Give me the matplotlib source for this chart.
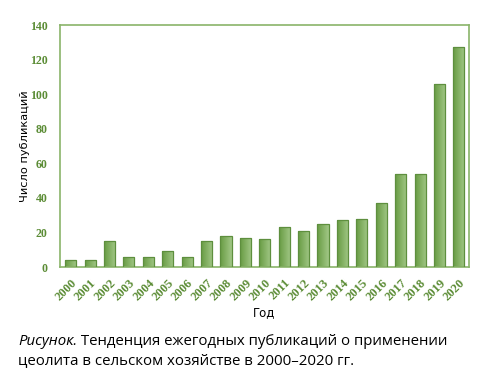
import matplotlib
matplotlib.use("Agg")
import matplotlib.pyplot as plt
import numpy as np
from matplotlib.colors import LinearSegmentedColormap

years = ["2000", "2001", "2002", "2003", "2004", "2005", "2006", "2007", "2008", "2009", "2010",
         "2011", "2012", "2013", "2014", "2015", "2016", "2017", "2018", "2019", "2020"]
counts = [4, 4, 15, 6, 6, 9, 6, 15, 18, 17, 16, 23, 21, 25, 27, 28, 37, 54, 54, 106, 127]
y_ticks = [0, 20, 40, 60, 80, 100, 120, 140]

tick_green = "#5b8c35"
spine_green = "#8ab46a"
edge_green = "#5e8f3e"

fig = plt.figure(figsize=(4.86, 3.79), dpi=100)
ax = fig.add_axes([0.1235, 0.2955, 0.8415, 0.6385])

x = np.arange(len(years))
bars = ax.bar(x, counts, width=0.57, color="none", edgecolor=edge_green, linewidth=0.9, zorder=3)

cmap = LinearSegmentedColormap.from_list("g", ["#679b43", "#a3c887"])
grad = np.linspace(0, 1, 64).reshape(1, -1)
for b in bars:
    x0, y0 = b.get_x(), b.get_y()
    w, h = b.get_width(), b.get_height()
    im = ax.imshow(grad, cmap=cmap, extent=[x0, x0 + w, y0, y0 + h], aspect="auto", zorder=2)
    im.set_clip_path(b)

ax.set_xlim(-0.55, len(years) - 0.48)
ax.set_ylim(0, 140)
ax.set_yticks(y_ticks)
ax.set_xticks(x)
ax.set_xticklabels(years, rotation=45, ha="right", rotation_mode="anchor")
for lbl in ax.get_xticklabels():
    lbl.set_fontsize(9)
for lbl in ax.get_yticklabels():
    lbl.set_fontsize(8.6)
for lbl in ax.get_xticklabels() + ax.get_yticklabels():
    lbl.set_family("Liberation Serif")
    lbl.set_fontweight("bold")
    lbl.set_color(tick_green)
ax.tick_params(axis="both", length=0)
ax.tick_params(axis="y", pad=9)
ax.tick_params(axis="x", pad=7)
for s in ax.spines.values():
    s.set_color(spine_green)
    s.set_linewidth(1.2)

ax.set_ylabel("Число публикаций", family="DejaVu Sans", fontsize=8.2, color="black")
ax.yaxis.set_label_coords(-0.074, 0.5)
ax.set_xlabel("Год", family="DejaVu Sans", fontsize=8.5, color="black")
ax.xaxis.set_label_coords(0.5, -0.162)

fig.text(0.037, 1 - 345 / 379, "Рисунок.", family="Open Sans", style="italic", fontsize=10.8,
         va="baseline")
fig.text(0.037 + 0.121, 1 - 345 / 379, " Тенденция ежегодных публикаций о применении",
         family="Open Sans", fontsize=10.8, va="baseline")
fig.text(0.037, 1 - 364 / 379, "цеолита в сельском хозяйстве в 2000–2020 гг.", family="Open Sans",
         fontsize=10.8, va="baseline")

fig.savefig("out.png", dpi=100)
